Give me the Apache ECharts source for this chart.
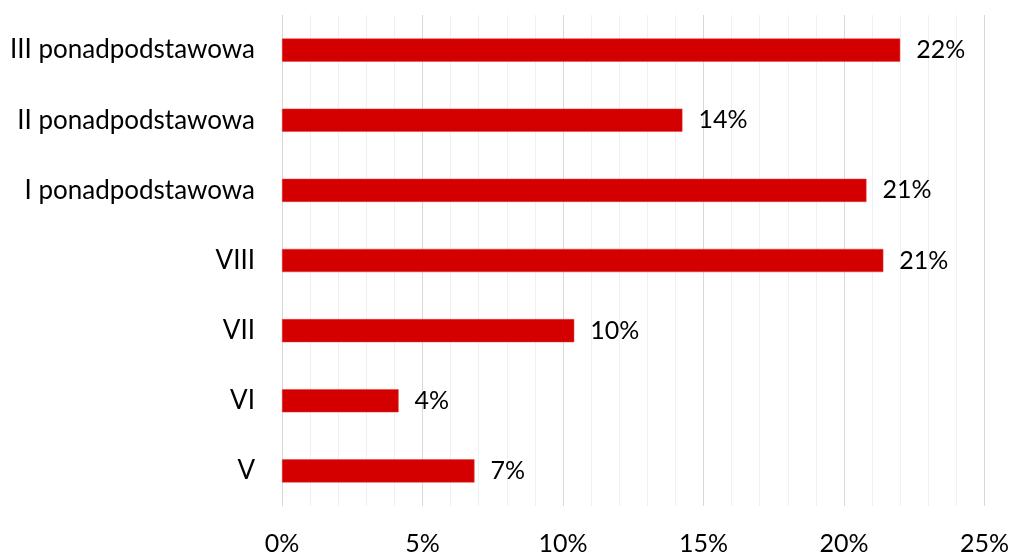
<!DOCTYPE html>
<html><head><meta charset="utf-8">
<script src="https://cdn.jsdelivr.net/npm/echarts@6/dist/echarts.min.js"></script>
<style>html,body{margin:0;padding:0;background:#fff}#c{width:1012px;height:556px}</style>
</head><body><div id="c"></div>
<script>
var categories = ["V", "VI", "VII", "VIII", "I ponadpodstawowa", "II ponadpodstawowa", "III ponadpodstawowa"];
var values = [6.85, 4.15, 10.4, 21.4, 20.8, 14.25, 22.0];
var xTicks = [0, 5, 10, 15, 20, 25];

var chart = echarts.init(document.getElementById('c'), null, {renderer: 'canvas'});
chart.setOption({
  animation: false,
  textStyle: {fontFamily: 'Lato, "Open Sans", sans-serif'},
  grid: {left: 282, right: 25, top: 15, bottom: 48, containLabel: false},
  xAxis: {
    type: 'value', min: xTicks[0], max: xTicks[xTicks.length - 1], interval: 5,
    axisLine: {show: false}, axisTick: {show: false},
    axisLabel: {formatter: function (v) { return v + '%'; }, fontSize: 25, color: '#000', margin: 25, fontFamily: 'Lato'},
    splitLine: {show: true, lineStyle: {color: '#d9d9d9', width: 1}},
    minorTick: {show: false, splitNumber: 5},
    minorSplitLine: {show: true, lineStyle: {color: '#f0f0f0', width: 1}}
  },
  yAxis: {
    type: 'category', data: categories,
    axisLine: {show: false}, axisTick: {show: false},
    axisLabel: {fontSize: 26, color: '#000', margin: 27, fontFamily: 'Lato'}
  },
  series: [{
    type: 'bar', data: values, barWidth: '33%',
    itemStyle: {color: '#d40000', borderColor: '#e03a3a', borderWidth: 0.5},
    label: {show: true, position: 'right', distance: 16, fontSize: 25, color: '#000', fontFamily: 'Lato',
      formatter: function (p) { return Math.round(p.value) + '%'; }}
  }]
});
</script></body></html>
